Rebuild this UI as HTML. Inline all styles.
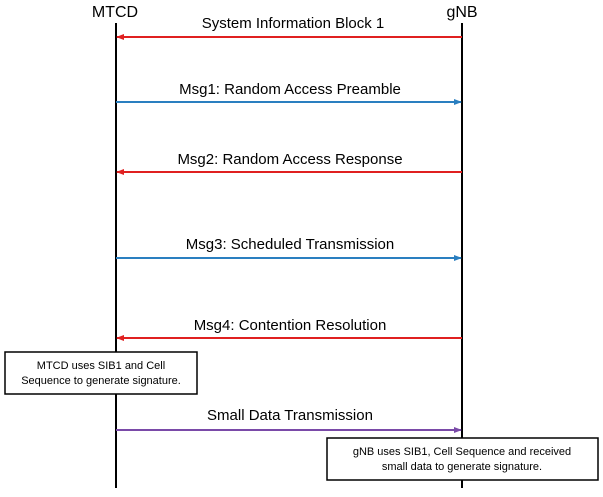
<!DOCTYPE html>
<html><head><style>
body{margin:0;background:#fff;width:603px;height:492px;overflow:hidden}
</style></head><body>
<svg width="603" height="492" xmlns="http://www.w3.org/2000/svg" font-family="Liberation Sans, Arial, sans-serif">
<defs>
<marker id="r" markerWidth="8" markerHeight="8" refX="7" refY="4" orient="auto" markerUnits="userSpaceOnUse"><path d="M0,1 L8,4 L0,7z" fill="#e02020"/></marker>
<marker id="b" markerWidth="8" markerHeight="8" refX="7" refY="4" orient="auto" markerUnits="userSpaceOnUse"><path d="M0,1 L8,4 L0,7z" fill="#2a7fc0"/></marker>
<marker id="p" markerWidth="8" markerHeight="8" refX="7" refY="4" orient="auto" markerUnits="userSpaceOnUse"><path d="M0,1 L8,4 L0,7z" fill="#7a4aa8"/></marker>
</defs>
<text x="115" y="17" font-size="16" text-anchor="middle">MTCD</text>
<text x="462" y="17" font-size="16" text-anchor="middle">gNB</text>
<line x1="116" y1="23" x2="116" y2="488" stroke="#000" stroke-width="2"/>
<line x1="462" y1="23" x2="462" y2="488" stroke="#000" stroke-width="2"/>
<g font-size="15" text-anchor="middle">
<text x="293" y="28">System Information Block 1</text>
<line x1="462" y1="37" x2="117" y2="37" stroke="#e02020" stroke-width="2" marker-end="url(#r)"/>
<text x="290" y="94">Msg1: Random Access Preamble</text>
<line x1="116" y1="102" x2="461" y2="102" stroke="#2a7fc0" stroke-width="2" marker-end="url(#b)"/>
<text x="290" y="164">Msg2: Random Access Response</text>
<line x1="462" y1="172" x2="117" y2="172" stroke="#e02020" stroke-width="2" marker-end="url(#r)"/>
<text x="290" y="249">Msg3: Scheduled Transmission</text>
<line x1="116" y1="258" x2="461" y2="258" stroke="#2a7fc0" stroke-width="2" marker-end="url(#b)"/>
<text x="290" y="330">Msg4: Contention Resolution</text>
<line x1="462" y1="338" x2="117" y2="338" stroke="#e02020" stroke-width="2" marker-end="url(#r)"/>
<text x="290" y="420">Small Data Transmission</text>
<line x1="116" y1="430" x2="461" y2="430" stroke="#7a4aa8" stroke-width="2" marker-end="url(#p)"/>
</g>
<rect x="5" y="352" width="192" height="42" fill="#fff" stroke="#000" stroke-width="1.5"/>
<g font-size="11" text-anchor="middle">
<text x="101" y="369">MTCD uses SIB1 and Cell</text>
<text x="101" y="384">Sequence to generate signature.</text>
</g>
<rect x="327" y="438" width="271" height="42" fill="#fff" stroke="#000" stroke-width="1.5"/>
<g font-size="11" text-anchor="middle">
<text x="462" y="455">gNB uses SIB1, Cell Sequence and received</text>
<text x="462" y="470">small data to generate signature.</text>
</g>
</svg>
</body></html>
